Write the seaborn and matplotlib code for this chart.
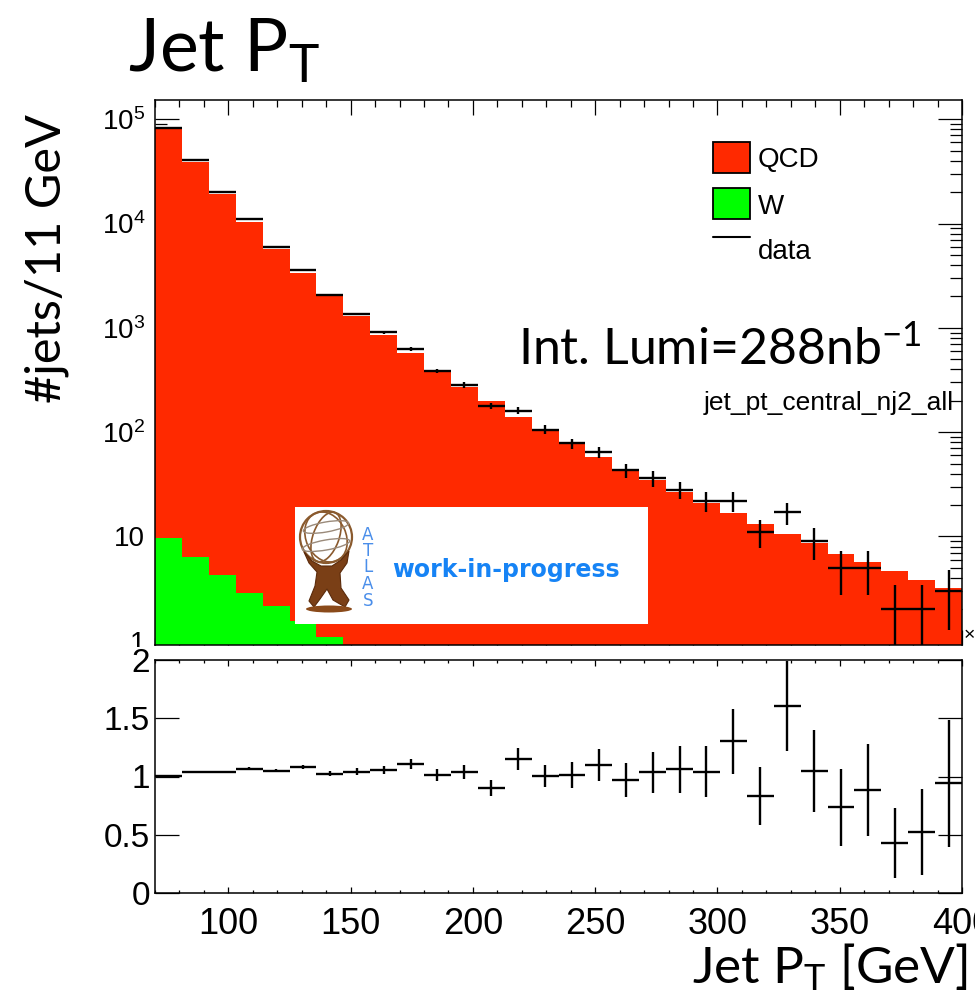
import numpy as np
import pandas as pd
import matplotlib
matplotlib.use("Agg")
import matplotlib.pyplot as plt
from matplotlib.patches import Rectangle, Circle, Ellipse, Polygon
from matplotlib.ticker import FixedLocator, FixedFormatter, NullFormatter, NullLocator, MultipleLocator
from matplotlib.lines import Line2D
import seaborn as sns

# ---------------------------------------------------------------------------
# Binning: 11 GeV bins from 70 to 400 GeV
pt_low, pt_high, bin_width = 70, 400, 11
bin_edges = np.arange(pt_low, pt_high + 1, bin_width)
bin_centers = bin_edges[:-1] + bin_width / 2

# Simulated jets per bin (stacked: W at the bottom, QCD on top)
qcd_counts = [81990, 39194, 19196, 10297, 5738, 3338, 2019, 1300, 855, 571,
              380, 273, 199, 140, 105.5, 77, 58.2, 44.4, 34.8, 26.4,
              21.1, 16.9, 13.2, 10.6, 8.6, 6.8, 5.66, 4.67, 3.83, 3.19]
w_counts = [9.7, 6.3, 4.3, 2.85, 2.16, 1.55, 1.09, 0, 0, 0,
            0, 0, 0, 0, 0, 0, 0, 0, 0, 0,
            0, 0, 0, 0, 0, 0, 0, 0, 0, 0]

# Observed jets per bin
data_counts = [82400, 40850, 19910, 11000, 6015, 3607, 2071, 1355, 904, 631,
               385, 284, 179, 161, 106, 78, 64, 43, 36, 28,
               22, 22, 11, 17, 9, 5, 5, 2, 2, 3]

# Tick values and labels
log_ticks = [1, 10, 100, 1000, 10000, 100000]
log_tick_labels = ["1", "10", "10$^{2}$", "10$^{3}$", "10$^{4}$", "10$^{5}$"]
ratio_ticks = [0, 0.5, 1, 1.5, 2]
ratio_tick_labels = ["0", "0.5", "1", "1.5", "2"]
pt_ticks = [100, 150, 200, 250, 300, 350, 400]
pt_tick_labels = ["100", "150", "200", "250", "300", "350", "400"]

# ---------------------------------------------------------------------------
df = pd.DataFrame({
    "pt": bin_centers,
    "qcd": qcd_counts,
    "w": w_counts,
    "data": data_counts,
})
df["mc_total"] = df["qcd"] + df["w"]
df["data_err"] = np.sqrt(df["data"])
df["ratio"] = df["data"] / df["mc_total"]
df["ratio_err"] = df["data_err"] / df["mc_total"]
half_width = np.diff(bin_edges) / 2

RED = "#ff2900"
GREEN = "#00ff00"
SANS = "Liberation Sans"
TITLE_FONT = "Lato"

sns.set_style("white")
plt.rcParams["font.family"] = [SANS, "DejaVu Sans"]
plt.rcParams["mathtext.default"] = "regular"
plt.rcParams["axes.linewidth"] = 1.1
for key in ["text.color", "axes.labelcolor", "xtick.color", "ytick.color",
            "axes.edgecolor"]:
    plt.rcParams[key] = "black"

W_PX, H_PX = 975, 1002


def fig_box(left, top, right, bottom):
    return [left / W_PX, 1 - bottom / H_PX, (right - left) / W_PX, (bottom - top) / H_PX]


fig = plt.figure(figsize=(W_PX / 100, H_PX / 100), dpi=100)
fig.patch.set_facecolor("white")

ax = fig.add_axes(fig_box(155, 100, 962, 645), zorder=0)
rax = fig.add_axes(fig_box(155, 660, 962, 893), zorder=2)

# ----------------------------- main pad -------------------------------------
edges_list = [float(e) for e in bin_edges]
sns.histplot(data=df, x="pt", weights="mc_total", bins=edges_list, element="step",
             fill=True, color=RED, alpha=1, linewidth=0, ax=ax)
sns.histplot(data=df, x="pt", weights="w", bins=edges_list, element="step",
             fill=True, color=GREEN, alpha=1, linewidth=0, ax=ax)
ax.errorbar(df["pt"], df["data"], xerr=half_width, yerr=df["data_err"],
            fmt="none", ecolor="black", elinewidth=1.7, capsize=0, zorder=4)

ax.set_yscale("log")
ax.set_xlim(pt_low, pt_high)
ax.set_ylim(0.91, 1.53e5)
ax.set_xlabel("")
ax.set_ylabel("")

ax.yaxis.set_major_locator(FixedLocator(log_ticks))
ax.yaxis.set_major_formatter(FixedFormatter(log_tick_labels))
minor_log = [m * 10 ** e for e in range(0, 6) for m in range(2, 10)]
ax.yaxis.set_minor_locator(FixedLocator(minor_log))
ax.yaxis.set_minor_formatter(NullFormatter())
ax.xaxis.set_major_locator(FixedLocator(pt_ticks))
ax.xaxis.set_minor_locator(MultipleLocator(10))

ax.tick_params(axis="y", which="major", direction="in", length=17, width=0.9,
               left=True, right=True, labelsize=20, pad=7)
ax.tick_params(axis="y", which="minor", direction="in", length=8.5, width=0.9,
               left=True, right=True)
ax.tick_params(axis="x", which="major", direction="in", length=10.5, width=0.9,
               top=True, bottom=True, labelbottom=False)
ax.tick_params(axis="x", which="minor", direction="in", length=5, width=0.9,
               top=True, bottom=True)
for s in ax.spines.values():
    s.set_color("black")
    s.set_linewidth(1.1)

# ----------------------------- ratio pad ------------------------------------
rax.errorbar(df["pt"], df["ratio"], xerr=half_width, yerr=df["ratio_err"],
             fmt="none", ecolor="black", elinewidth=1.7, capsize=0)
rax.set_xlim(pt_low, pt_high)
rax.set_ylim(0, 2)
rax.yaxis.set_major_locator(FixedLocator(ratio_ticks))
rax.yaxis.set_major_formatter(FixedFormatter(ratio_tick_labels))
rax.yaxis.set_minor_locator(NullLocator())
rax.xaxis.set_major_locator(FixedLocator(pt_ticks))
rax.xaxis.set_major_formatter(FixedFormatter(pt_tick_labels))
rax.xaxis.set_minor_locator(MultipleLocator(10))
rax.tick_params(axis="y", which="major", direction="in", length=17, width=0.9,
                left=True, right=True, labelsize=24, pad=3.5)
rax.tick_params(axis="x", which="major", direction="in", length=4.5, width=0.9,
                top=True, bottom=True, labelsize=26, pad=10)
rax.tick_params(axis="x", which="minor", direction="in", length=2.2, width=0.9,
                top=True, bottom=True)
for s in rax.spines.values():
    s.set_color("black")
    s.set_linewidth(1.1)

# white band so the ratio pad sits over the bottom of the main pad
fig.patches.append(Rectangle((0, 0), 1, 1 - 647 / H_PX, transform=fig.transFigure,
                             facecolor="white", edgecolor="none", zorder=1))

# ----------------------------- annotations (pixel frame) --------------------
lax = fig.add_axes([0, 0, 1, 1], zorder=5)
lax.set_xlim(0, W_PX)
lax.set_ylim(H_PX, 0)
lax.axis("off")

# titles
lax.text(128, 72, "Jet P$_{T}$", fontsize=53, family=TITLE_FONT, ha="left", va="baseline")
lax.text(968, 983, "Jet P$_{T}$ [GeV]", fontsize=37, family=TITLE_FONT, ha="right", va="baseline")
lax.text(47, 114, "#jets/11 GeV", fontsize=35, family=TITLE_FONT, rotation=90,
         ha="center", va="top")
lax.text(518, 365, "Int. Lumi=288nb$^{-1}$", fontsize=36, family=TITLE_FONT,
         ha="left", va="baseline")
lax.text(954, 410, "jet_pt_central_nj2_all", fontsize=19, family=SANS,
         ha="right", va="baseline")
lax.text(964, 640, "\u00d7", fontsize=14, family=SANS, ha="left", va="baseline")

# legend
lax.add_patch(Rectangle((713, 142), 37, 31, facecolor=RED, edgecolor="black", lw=1.3))
lax.add_patch(Rectangle((713, 188), 37, 31, facecolor=GREEN, edgecolor="black", lw=1.3))
lax.add_line(Line2D([713, 750], [237, 237], color="black", lw=1.5))
lax.text(758, 167, "QCD", fontsize=20, family=SANS, va="baseline")
lax.text(758, 214, "W", fontsize=20, family=SANS, va="baseline")
lax.text(758, 259, "data", fontsize=20, family=SANS, va="baseline")

# work-in-progress badge
lax.add_patch(Rectangle((295, 507), 353, 117, facecolor="white", edgecolor="none"))
bronze = "#8a5a2e"
globe_c = (326, 537)
lax.add_patch(Circle(globe_c, 26, facecolor="none", edgecolor=bronze, lw=1.6))
for wdt, ang in [(26, 20), (40, -25)]:
    lax.add_patch(Ellipse(globe_c, wdt, 52, angle=ang, facecolor="none",
                          edgecolor=bronze, lw=1.2))
for dy, wdt in [(-10, 46), (8, 48)]:
    lax.add_patch(Ellipse((globe_c[0], globe_c[1] + dy), wdt, 10, angle=-10,
                          facecolor="none", edgecolor="#9a8a7a", lw=1.0))
body = [(304, 552), (312, 561), (321, 566), (332, 566), (341, 560), (349, 551),
        (347, 563), (340, 573), (341, 588), (349, 600), (345, 607), (333, 600),
        (327, 589), (320, 599), (314, 607), (309, 601), (315, 586), (317, 572),
        (309, 563)]
lax.add_patch(Polygon(body, closed=True, facecolor="#7a3f16", edgecolor="#5a2a0a", lw=0.8))
lax.add_patch(Ellipse((329, 609), 46, 7, facecolor="#8a4a1a", edgecolor="none"))
for letter, yy in zip("ATLAS", [535, 551, 567, 584, 601]):
    lax.text(368, yy, letter, fontsize=12, family="DejaVu Sans", color="#4a8eea",
             ha="center", va="center")
lax.text(392, 570, "work-in-progress", fontsize=17, family="DejaVu Sans",
         fontweight="bold", color="#1683f5", ha="left", va="center")

fig.savefig("out.png", dpi=100, facecolor="white")
